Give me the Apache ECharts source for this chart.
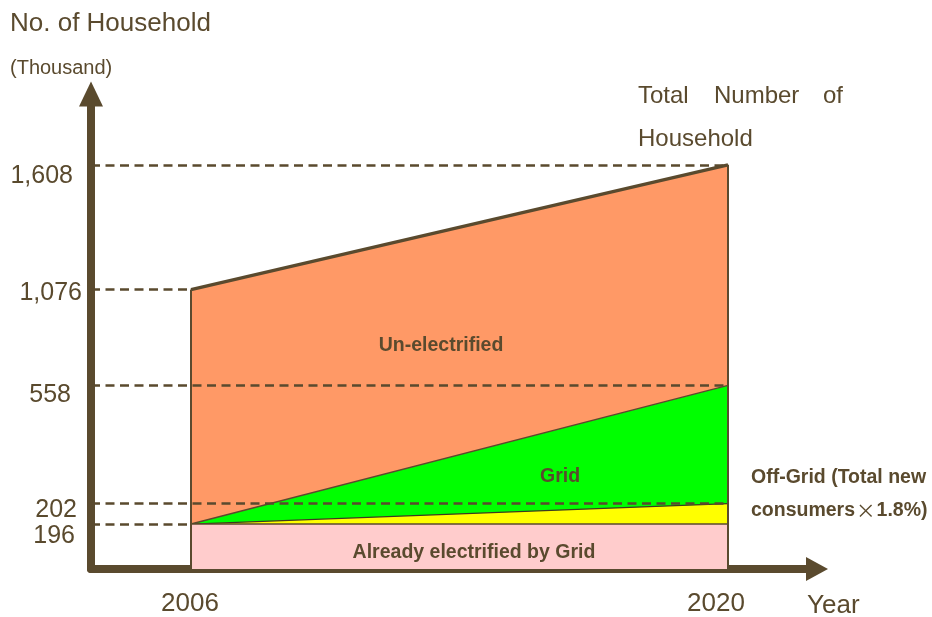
<!DOCTYPE html>
<html>
<head>
<meta charset="utf-8">
<title>No. of Household</title>
<script src="https://cdn.jsdelivr.net/npm/echarts@6/dist/echarts.min.js"></script>
<style>
  html, body { margin: 0; padding: 0; background: #ffffff; }
  #chart { width: 932px; height: 617px; }
</style>
</head>
<body>
<div id="chart"></div>
<script>
// Households (thousand) at the two milestone years
const years = [2006, 2020];
const alreadyElectrified = [196, 196];   // already electrified by grid
const offGridTop = [196, 202];           // top of the off-grid band
const gridTop = [196, 558];              // top of the grid band
const totalHouseholds = [1076, 1608];    // total number of households
const yTickValues = [196, 202, 558, 1076, 1608];
const xTickValues = [2006, 2020];

// The vertical axis is schematic: each tick value has its own place on the
// axis and values in between are placed linearly between neighbouring ticks.
const SCALE_VALUES = [0, 196, 202, 558, 1076, 1608];
const SCALE_PLACES = [0, 45, 65.5, 184, 280, 405];
const Y_AXIS_MAX = 476;
function toAxis(v) {
  const n = SCALE_VALUES.length;
  let i = 1;
  while (i < n - 1 && v > SCALE_VALUES[i]) i++;
  const v0 = SCALE_VALUES[i - 1], v1 = SCALE_VALUES[i];
  const p0 = SCALE_PLACES[i - 1], p1 = SCALE_PLACES[i];
  return p0 + (v - v0) * (p1 - p0) / (v1 - v0);
}

const BROWN = '#5a4a2e';
const FONT = 'Liberation Sans, Arial, sans-serif';
const X_MIN = 2003.393, X_MAX = 2022.32;
const pts = arr => years.map((y, i) => [y, toAxis(arr[i])]);

// Per-label nudges for the value labels on the vertical axis
const yLabelRich = {
  t0: { padding: [24, 7, 0, 0] },
  t1: { padding: [13, 5, 0, 0] },
  t2: { padding: [20, 11, 0, 0] },
  t3: { padding: [8, 0, 0, 0] },
  t4: { padding: [22, 9, 0, 0] }
};
const xLabelRich = {
  x0: { padding: [0, 2, 0, 0] },
  x1: { padding: [0, 24, 0, 0] }
};

// Dashed guides: each value runs from the axis to the year it belongs to
const guides = [
  [totalHouseholds[1], years[1]],
  [totalHouseholds[0], years[0]],
  [gridTop[1], years[1]],
  [offGridTop[1], years[1]],
  [alreadyElectrified[0], years[0]]
];

// Free text placed on the drawing
function label(text, x, y, size, opts) {
  opts = opts || {};
  const style = {
    text: text, fill: BROWN, fontFamily: FONT, fontSize: size,
    fontWeight: opts.bold ? 'bold' : 'normal',
    align: opts.align || 'left', verticalAlign: 'middle'
  };
  if (opts.rich) style.rich = opts.rich;
  return { type: 'text', x: x, y: y, z: 100, silent: true, style: style };
}

const chart = echarts.init(document.getElementById('chart'));

chart.setOption({
  animation: false,
  grid: { left: 91, right: 115, top: 94, bottom: 47, containLabel: false },
  xAxis: {
    type: 'value', min: X_MIN, max: X_MAX,
    splitLine: { show: false },
    axisTick: { show: false },
    axisLine: {
      onZero: false,
      lineStyle: { color: BROWN, width: 8 },
      symbol: ['none', 'triangle'], symbolSize: [24, 22]
    },
    axisLabel: {
      customValues: xTickValues,
      margin: 22,
      color: BROWN, fontSize: 26, fontFamily: FONT,
      formatter: v => {
        const i = xTickValues.indexOf(v);
        return '{x' + i + '|' + v + '}';
      },
      rich: xLabelRich
    }
  },
  yAxis: {
    type: 'value', min: 0, max: Y_AXIS_MAX,
    splitLine: { show: false },
    axisTick: { show: false },
    axisLine: {
      show: true, onZero: false,
      lineStyle: { color: BROWN, width: 8 },
      symbol: ['none', 'triangle'], symbolSize: [24, 25]
    },
    axisLabel: {
      customValues: yTickValues.map(toAxis),
      margin: 9,
      color: BROWN, fontSize: 25, fontFamily: FONT,
      formatter: v => {
        const i = yTickValues.findIndex(t => Math.abs(toAxis(t) - v) < 1e-6);
        if (i < 0) return '';
        return '{t' + i + '|' + yTickValues[i].toLocaleString('en-US') + '}';
      },
      rich: yLabelRich
    }
  },
  series: [
    {
      name: 'Un-electrified', type: 'line', data: pts(totalHouseholds),
      showSymbol: false, silent: true, z: 2,
      lineStyle: { color: BROWN, width: 3.2 },
      areaStyle: { color: '#ff9966', opacity: 1 }
    },
    {
      name: 'Grid', type: 'line', data: pts(gridTop),
      showSymbol: false, silent: true, z: 3,
      lineStyle: { color: BROWN, width: 1.5 },
      areaStyle: { color: '#00ff00', opacity: 1 }
    },
    {
      name: 'Off-Grid', type: 'line', data: pts(offGridTop),
      showSymbol: false, silent: true, z: 4,
      lineStyle: { color: '#3c3a20', width: 1.2 },
      areaStyle: { color: '#ffff00', opacity: 1 }
    },
    {
      name: 'Already electrified by Grid', type: 'line', data: pts(alreadyElectrified),
      showSymbol: false, silent: true, z: 5,
      lineStyle: { color: BROWN, width: 1.5 },
      areaStyle: { color: '#ffcccc', opacity: 1 },
      markLine: {
        silent: true, symbol: 'none', z: 8,
        label: { show: false },
        lineStyle: { color: BROWN, width: 2.5, type: [9, 5.5] },
        data: guides.map(([v, yr]) => [
          { coord: [X_MIN, toAxis(v)] },
          { coord: [yr, toAxis(v)] }
        ]).concat(years.map((yr, i) => [
          { coord: [yr, 0], lineStyle: { type: 'solid', width: 2 } },
          { coord: [yr, toAxis(totalHouseholds[i])] }
        ]))
      }
    }
  ],
  graphic: [
    label('No. of Household', 10, 24, 26),
    label('(Thousand)', 10, 68, 20),
    label('Total', 638, 96, 24),
    label('Number', 714, 96, 24),
    label('of', 823, 96, 24),
    label('Household', 638, 139, 24),
    label('Year', 807, 606, 26),
    label('Un-electrified', 441, 346, 19.5, { bold: true, align: 'center' }),
    label('Grid', 560, 477, 19.5, { bold: true, align: 'center' }),
    label('Already electrified by Grid', 474, 553, 19.5, { bold: true, align: 'center' }),
    label('Off-Grid (Total new', 751, 478, 19.5, { bold: true }),
    label('{a|consumers}{b|\u00d7}{a|1.8%)}', 751, 511, 19.5, {
      bold: true,
      rich: {
        a: { fontFamily: FONT, fontSize: 19.5, fontWeight: 'bold', fill: BROWN },
        b: { fontFamily: 'Noto Sans CJK JP', fontSize: 19.5, fontWeight: 'normal', fill: BROWN, padding: [0, 1, 0, 1] }
      }
    })
  ]
});
</script>
</body>
</html>
